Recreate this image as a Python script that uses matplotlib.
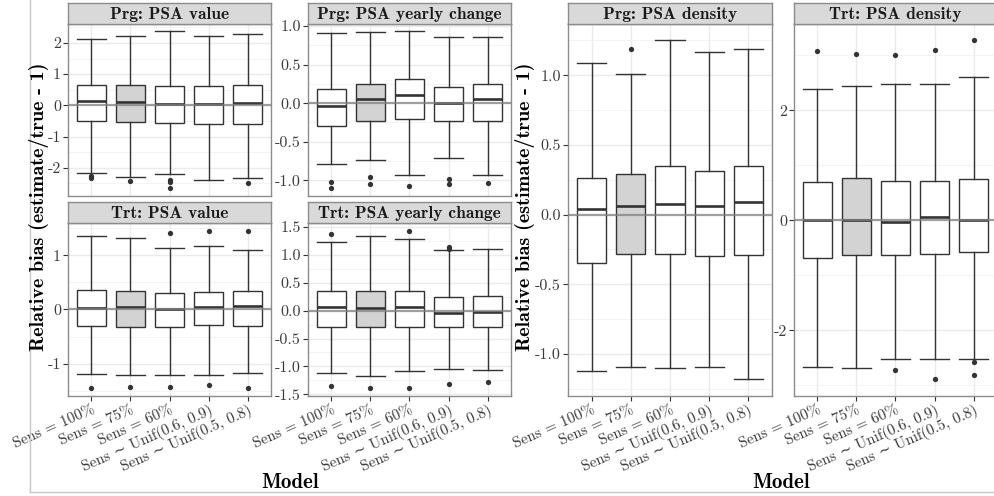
import matplotlib
matplotlib.use("Agg")
import matplotlib.pyplot as plt
from matplotlib.ticker import MultipleLocator, ScalarFormatter
from matplotlib.lines import Line2D

plt.rcParams['axes.unicode_minus'] = False

categories = ["Sens = 100%", "Sens = 75%", "Sens = 60%",
              "Sens \u223c Unif(0.6, 0.9)", "Sens \u223c Unif(0.5, 0.8)"]
highlight = 1  # index of the grey-filled box

titles = ["Prg: PSA value", "Prg: PSA yearly change",
          "Trt: PSA value", "Trt: PSA yearly change",
          "Prg: PSA density", "Trt: PSA density"]

# Per panel: upper whisker, Q3, median, Q1, lower whisker, outliers
prg_value_hi = [2.14, 2.22, 2.37, 2.22, 2.29]
prg_value_q3 = [0.64, 0.64, 0.61, 0.63, 0.65]
prg_value_med = [0.13, 0.11, 0.05, 0.05, 0.09]
prg_value_q1 = [-0.49, -0.54, -0.55, -0.60, -0.59]
prg_value_lo = [-2.17, -2.30, -2.21, -2.40, -2.32]
prg_value_out = [[-2.25, -2.32], [-2.41], [-2.38, -2.46, -2.65], [], [-2.49]]

prg_change_hi = [0.91, 0.92, 0.93, 0.86, 0.86]
prg_change_q3 = [0.18, 0.25, 0.31, 0.21, 0.25]
prg_change_med = [-0.04, 0.05, 0.10, 0.00, 0.05]
prg_change_q1 = [-0.30, -0.23, -0.21, -0.23, -0.23]
prg_change_lo = [-0.79, -0.73, -0.93, -0.71, -0.93]
prg_change_out = [[-1.02, -1.10], [-0.95, -1.05], [-1.07], [-0.98, -1.05], [-1.03]]

trt_value_hi = [1.36, 1.32, 1.14, 1.18, 1.10]
trt_value_q3 = [0.36, 0.34, 0.31, 0.33, 0.34]
trt_value_med = [0.02, 0.04, 0.00, 0.04, 0.06]
trt_value_q1 = [-0.31, -0.32, -0.33, -0.29, -0.31]
trt_value_lo = [-1.19, -1.20, -1.21, -1.20, -1.17]
trt_value_out = [[-1.45], [-1.43], [1.41, -1.43], [1.45, -1.39], [1.45, -1.45]]

trt_change_hi = [1.23, 1.34, 1.29, 1.08, 1.11]
trt_change_q3 = [0.36, 0.36, 0.36, 0.25, 0.27]
trt_change_med = [0.07, 0.04, 0.06, -0.04, -0.02]
trt_change_q1 = [-0.30, -0.30, -0.30, -0.30, -0.30]
trt_change_lo = [-1.12, -1.17, -1.08, -1.04, -1.06]
trt_change_out = [[1.37, -1.35], [-1.39], [1.43, -1.39], [1.11, 1.14, -1.31], [-1.28]]

prg_density_hi = [1.09, 1.01, 1.25, 1.17, 1.19]
prg_density_q3 = [0.26, 0.29, 0.35, 0.31, 0.35]
prg_density_med = [0.04, 0.065, 0.077, 0.065, 0.09]
prg_density_q1 = [-0.35, -0.28, -0.28, -0.30, -0.29]
prg_density_lo = [-1.12, -1.09, -1.10, -1.09, -1.18]
prg_density_out = [[], [1.19], [], [], []]

trt_density_hi = [2.38, 2.44, 2.48, 2.48, 2.61]
trt_density_q3 = [0.70, 0.77, 0.72, 0.72, 0.75]
trt_density_med = [-0.005, 0.005, -0.04, 0.05, 0.005]
trt_density_q1 = [-0.68, -0.64, -0.64, -0.61, -0.58]
trt_density_lo = [-2.67, -2.69, -2.53, -2.53, -2.53]
trt_density_out = [[3.07], [3.02], [3.00, -2.73], [3.10, -2.89], [3.27, -2.58, -2.81]]

panels_data = [
    (prg_value_hi, prg_value_q3, prg_value_med, prg_value_q1, prg_value_lo, prg_value_out),
    (prg_change_hi, prg_change_q3, prg_change_med, prg_change_q1, prg_change_lo, prg_change_out),
    (trt_value_hi, trt_value_q3, trt_value_med, trt_value_q1, trt_value_lo, trt_value_out),
    (trt_change_hi, trt_change_q3, trt_change_med, trt_change_q1, trt_change_lo, trt_change_out),
    (prg_density_hi, prg_density_q3, prg_density_med, prg_density_q1, prg_density_lo, prg_density_out),
    (trt_density_hi, trt_density_q3, trt_density_med, trt_density_q1, trt_density_lo, trt_density_out),
]
major_steps = [1, 0.5, 1, 0.5, 0.5, 2]

W, H = 995, 496
# pixel boxes: (left, right, strip_top, panel_top, panel_bottom)
boxes_px = [
    (68, 271, 3, 23.5, 196),
    (308, 511, 3, 23.5, 196),
    (68, 271, 202, 223, 396),
    (308, 511, 202, 223, 396),
    (568, 772, 3, 23.5, 396),
    (794, 997, 3, 23.5, 396),
]
show_xlabels = [False, False, True, True, True, True]

fig = plt.figure(figsize=(W / 100, H / 100), dpi=100)
fig.patch.set_facecolor('white')

REG = ['cmr10', 'DejaVu Serif']
BOLD = 'cmb10'
pos = list(range(1, len(categories) + 1))

for i, (l, r, st, pt, pb) in enumerate(boxes_px):
    ax = fig.add_axes([l / W, 1 - pb / H, (r - l) / W, (pb - pt) / H])
    sax = fig.add_axes([l / W, 1 - pt / H, (r - l) / W, (pt - st) / H])
    hi, q3, med, q1, lo, out = panels_data[i]
    stats = []
    for k in range(len(categories)):
        stats.append(dict(med=med[k], q1=q1[k], q3=q3[k], whislo=lo[k], whishi=hi[k],
                          fliers=out[k]))
    ax.set_facecolor('white')
    bp = ax.bxp(stats, positions=pos, widths=0.75, capwidths=0.75, patch_artist=True,
                showfliers=True,
                boxprops=dict(edgecolor='#333333', linewidth=1.0),
                medianprops=dict(color='#333333', linewidth=1.9),
                whiskerprops=dict(color='#333333', linewidth=1.0),
                capprops=dict(color='#333333', linewidth=1.0),
                flierprops=dict(marker='o', markerfacecolor='#333333',
                                markeredgecolor='none', markersize=3.8),
                zorder=3)
    for k, patch in enumerate(bp['boxes']):
        patch.set_facecolor('#D3D3D3' if k == highlight else 'white')
    ax.axhline(0, color='#7f7f7f', alpha=0.75, linewidth=1.6, zorder=4)

    allv = hi + lo + [v for o in out for v in o]
    vmin, vmax = min(allv), max(allv)
    pad = 0.05 * (vmax - vmin)
    ax.set_ylim(vmin - pad, vmax + pad)
    ax.set_xlim(0.4, len(categories) + 0.6)
    ax.yaxis.set_major_locator(MultipleLocator(major_steps[i]))
    ax.yaxis.set_minor_locator(MultipleLocator(major_steps[i] / 2))
    ax.yaxis.set_major_formatter(ScalarFormatter())
    ax.set_xticks(pos)
    ax.grid(True, which='major', color='#EBEBEB', linewidth=1.0, zorder=0)
    ax.grid(True, which='minor', axis='y', color='#F2F2F2', linewidth=0.6, zorder=0)
    ax.set_axisbelow(True)
    for sp in ax.spines.values():
        sp.set_color('#8c8c8c')
        sp.set_linewidth(1.0)
    ax.tick_params(axis='both', which='major', length=3.5, width=0.8, color='#333333',
                   labelcolor='#3a3a3a', pad=1.5)
    ax.tick_params(axis='y', which='minor', length=0)
    for t in ax.get_yticklabels():
        t.set_fontfamily(REG)
        t.set_fontsize(11.5)
    if show_xlabels[i]:
        ax.set_xticklabels(categories, rotation=24, ha='right', va='top',
                           rotation_mode='anchor', fontfamily=REG, fontsize=11,
                           color='#3a3a3a')
    else:
        ax.set_xticklabels([])
        ax.tick_params(axis='x', length=0)

    sax.set_facecolor('#D9D9D9')
    sax.set_xticks([])
    sax.set_yticks([])
    for sp in sax.spines.values():
        sp.set_color('#8c8c8c')
        sp.set_linewidth(1.0)
    sax.text(0.5, 0.45, titles[i], transform=sax.transAxes, ha='center', va='center',
             fontfamily=BOLD, fontsize=12.5, color='#1a1a1a')

ylabel = "Relative bias (estimate/true - 1)"
fig.text(39.5 / W, 1 - 207 / H, ylabel, rotation=90, ha='center', va='center',
         fontfamily=BOLD, fontsize=14.5, color='black')
fig.text(525 / W, 1 - 207 / H, ylabel, rotation=90, ha='center', va='center',
         fontfamily=BOLD, fontsize=14.5, color='black')
fig.text(290 / W, 1 - 483 / H, "Model", ha='center', va='center',
         fontfamily=BOLD, fontsize=15, color='black')
fig.text(781 / W, 1 - 483 / H, "Model", ha='center', va='center',
         fontfamily=BOLD, fontsize=15, color='black')

fig.add_artist(Line2D([30 / W, 30 / W], [1, 1 - 492 / H], transform=fig.transFigure,
                      color='#C8C8C8', linewidth=1.0))
fig.add_artist(Line2D([30 / W, 1], [1 - 492 / H, 1 - 492 / H], transform=fig.transFigure,
                      color='#C8C8C8', linewidth=1.0))

fig.savefig("out.png", dpi=100, facecolor='white')
